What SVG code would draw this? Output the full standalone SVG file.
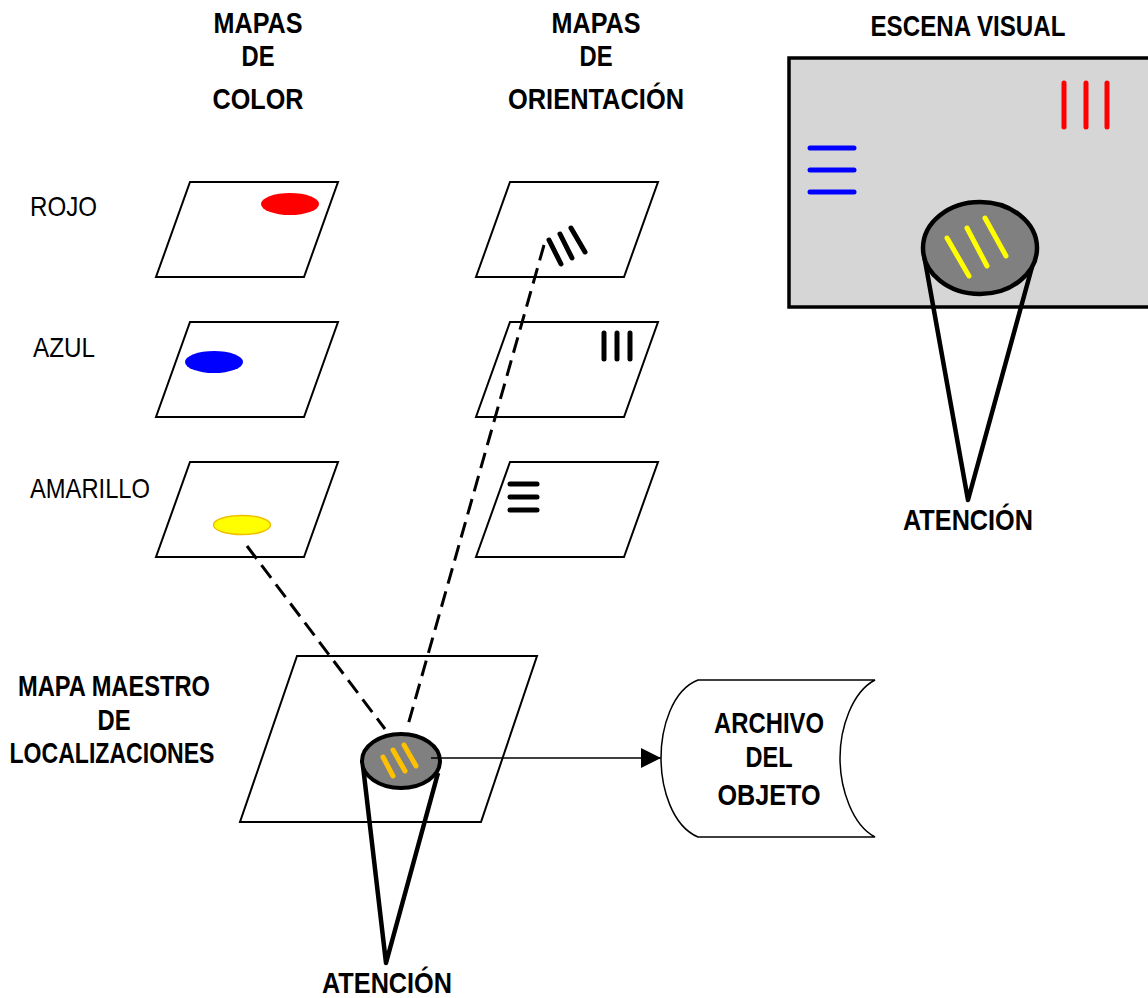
<svg xmlns="http://www.w3.org/2000/svg" width="1148" height="998" viewBox="0 0 1148 998">
  <style>
    .lbl { font-family: "Liberation Sans", Arial, sans-serif; font-size: 30px; font-weight: bold; fill: #000; text-anchor: middle; }
    .side { font-family: "Liberation Sans", Arial, sans-serif; font-size: 28px; fill: #000; }
    .map { fill: #fff; stroke: #000; stroke-width: 2; }
    .bar { fill: none; stroke-width: 5; stroke-linecap: round; }
    .cone { fill: none; stroke: #000; stroke-width: 4.5; stroke-linejoin: round; }
    .dash { fill: none; stroke: #000; stroke-width: 3; stroke-dasharray: 16 8; }
  </style>
  <defs>
    <marker id="arrow" viewBox="0 0 20 20" refX="20" refY="10" markerWidth="20" markerHeight="20" markerUnits="userSpaceOnUse" orient="auto">
      <path d="M0,0 L20,10 L0,20 Z" fill="#000"/>
    </marker>
  </defs>

  <rect x="0" y="0" width="1148" height="998" fill="#fff"/>

  <!-- column headings (narrow lettering) -->
  <g id="heading-color">
    <text class="lbl" x="258" y="33" textLength="89" lengthAdjust="spacingAndGlyphs">MAPAS</text>
    <text class="lbl" x="258" y="66" textLength="33" lengthAdjust="spacingAndGlyphs">DE</text>
    <text class="lbl" x="258" y="109" textLength="91" lengthAdjust="spacingAndGlyphs">COLOR</text>
  </g>
  <g id="heading-orientation">
    <text class="lbl" x="596" y="33" textLength="89" lengthAdjust="spacingAndGlyphs">MAPAS</text>
    <text class="lbl" x="596" y="66" textLength="33" lengthAdjust="spacingAndGlyphs">DE</text>
    <text class="lbl" x="596" y="109" textLength="176" lengthAdjust="spacingAndGlyphs">ORIENTACIÓN</text>
  </g>

  <!-- row labels -->
  <text class="side" x="30" y="216" textLength="67" lengthAdjust="spacingAndGlyphs">ROJO</text>
  <text class="side" x="33" y="357" textLength="62" lengthAdjust="spacingAndGlyphs">AZUL</text>
  <text class="side" x="30" y="498" textLength="120" lengthAdjust="spacingAndGlyphs">AMARILLO</text>

  <!-- colour feature maps -->
  <g id="map-red">
    <polygon class="map" points="190,182 338,182 304,277 156,277"/>
    <ellipse cx="290" cy="204" rx="29" ry="11" fill="#ff0000"/>
  </g>
  <g id="map-blue">
    <polygon class="map" points="190,322 338,322 304,417 156,417"/>
    <ellipse cx="214" cy="362" rx="29" ry="11" fill="#0000ff"/>
  </g>
  <g id="map-yellow">
    <polygon class="map" points="190,462 338,462 304,557 156,557"/>
    <ellipse cx="242" cy="525" rx="28.5" ry="9.5" fill="#ffff00" stroke="#f0c000" stroke-width="1.5"/>
  </g>

  <!-- orientation feature maps -->
  <g id="map-diagonal">
    <polygon class="map" points="510,182 658,182 624,277 476,277"/>
    <line class="bar" stroke="#000" stroke-width="5.5" x1="549" y1="240" x2="561" y2="264"/>
    <line class="bar" stroke="#000" stroke-width="5.5" x1="560" y1="234" x2="572" y2="258"/>
    <line class="bar" stroke="#000" stroke-width="5.5" x1="571" y1="228" x2="585" y2="252"/>
  </g>
  <g id="map-vertical">
    <polygon class="map" points="510,322 658,322 624,417 476,417"/>
    <line class="bar" stroke="#000" stroke-width="5.5" x1="604" y1="333" x2="604" y2="359"/>
    <line class="bar" stroke="#000" stroke-width="5.5" x1="617" y1="333" x2="617" y2="359"/>
    <line class="bar" stroke="#000" stroke-width="5.5" x1="630" y1="333" x2="630" y2="359"/>
  </g>
  <g id="map-horizontal">
    <polygon class="map" points="510,462 658,462 624,557 476,557"/>
    <line class="bar" stroke="#000" stroke-width="5.5" x1="510" y1="484" x2="537" y2="484"/>
    <line class="bar" stroke="#000" stroke-width="5.5" x1="510" y1="497" x2="537" y2="497"/>
    <line class="bar" stroke="#000" stroke-width="5.5" x1="510" y1="510" x2="537" y2="510"/>
  </g>

  <!-- visual scene -->
  <g id="scene">
    <text class="lbl" x="968" y="36" textLength="195" lengthAdjust="spacingAndGlyphs">ESCENA VISUAL</text>
    <rect x="789" y="58" width="380" height="249" fill="#d6d6d6" stroke="#000" stroke-width="3.5"/>
    <line class="bar" stroke="#ff0000" x1="1064" y1="83" x2="1064" y2="127"/>
    <line class="bar" stroke="#ff0000" x1="1086" y1="83" x2="1086" y2="127"/>
    <line class="bar" stroke="#ff0000" x1="1107" y1="83" x2="1107" y2="127"/>
    <line class="bar" stroke="#0000ff" x1="810" y1="148" x2="854" y2="148"/>
    <line class="bar" stroke="#0000ff" x1="810" y1="170" x2="854" y2="170"/>
    <line class="bar" stroke="#0000ff" x1="810" y1="192" x2="854" y2="192"/>
  </g>
  <g id="scene-attention">
    <polyline class="cone" points="924,255 968,500 1032,267"/>
    <ellipse cx="980" cy="248" rx="57" ry="46" fill="#808080" stroke="#000" stroke-width="4.5"/>
    <line class="bar" stroke="#ffff00" stroke-width="4" x1="947" y1="238" x2="969" y2="276"/>
    <line class="bar" stroke="#ffff00" stroke-width="4" x1="967" y1="228" x2="987" y2="266"/>
    <line class="bar" stroke="#ffff00" stroke-width="4" x1="985" y1="218" x2="1006" y2="256"/>
    <text class="lbl" x="968" y="530" textLength="130" lengthAdjust="spacingAndGlyphs">ATENCIÓN</text>
  </g>

  <!-- master map of locations -->
  <g id="master-label">
    <text class="lbl" x="114" y="696" textLength="192" lengthAdjust="spacingAndGlyphs">MAPA MAESTRO</text>
    <text class="lbl" x="114" y="730" textLength="33" lengthAdjust="spacingAndGlyphs">DE</text>
    <text class="lbl" x="112" y="763" textLength="205" lengthAdjust="spacingAndGlyphs">LOCALIZACIONES</text>
  </g>
  <g id="master-map">
    <polygon class="map" stroke-width="1.5" points="297,656 537,656 481,822 240,822"/>
  </g>

  <!-- object file -->
  <g id="object-file">
    <path d="M698,680 L875,680 C852,692 840,728 840,758 C840,788 852,825 875,837 L698,837 C672,826 661,788 661,758 C661,728 672,690 698,680 Z" fill="#fff" stroke="#000" stroke-width="1.5"/>
    <text class="lbl" x="769" y="733" textLength="110" lengthAdjust="spacingAndGlyphs">ARCHIVO</text>
    <text class="lbl" x="769" y="767" textLength="47" lengthAdjust="spacingAndGlyphs">DEL</text>
    <text class="lbl" x="769" y="805" textLength="103" lengthAdjust="spacingAndGlyphs">OBJETO</text>
  </g>

  <!-- connectors -->
  <g id="connectors">
    <line class="dash" x1="247" y1="546" x2="385" y2="729"/>
    <line class="dash" x1="544" y1="245" x2="408" y2="725"/>
    <line x1="431" y1="758" x2="661" y2="758" stroke="#000" stroke-width="1.5" marker-end="url(#arrow)"/>
  </g>

  <!-- focus of attention on the master map -->
  <g id="master-attention">
    <polyline class="cone" stroke-width="4" points="363,766 386,963 438,773"/>
    <ellipse cx="401" cy="761" rx="39" ry="27" fill="#808080" stroke="#000" stroke-width="4"/>
    <line class="bar" stroke="#ffc000" x1="383" y1="757" x2="393" y2="776"/>
    <line class="bar" stroke="#ffc000" x1="393" y1="750" x2="405" y2="771"/>
    <line class="bar" stroke="#ffc000" x1="404" y1="745" x2="416" y2="766"/>
    <line x1="431" y1="758" x2="441" y2="758" stroke="#000" stroke-width="1.5"/>
    <text class="lbl" x="387" y="993" textLength="130" lengthAdjust="spacingAndGlyphs">ATENCIÓN</text>
  </g>
</svg>
